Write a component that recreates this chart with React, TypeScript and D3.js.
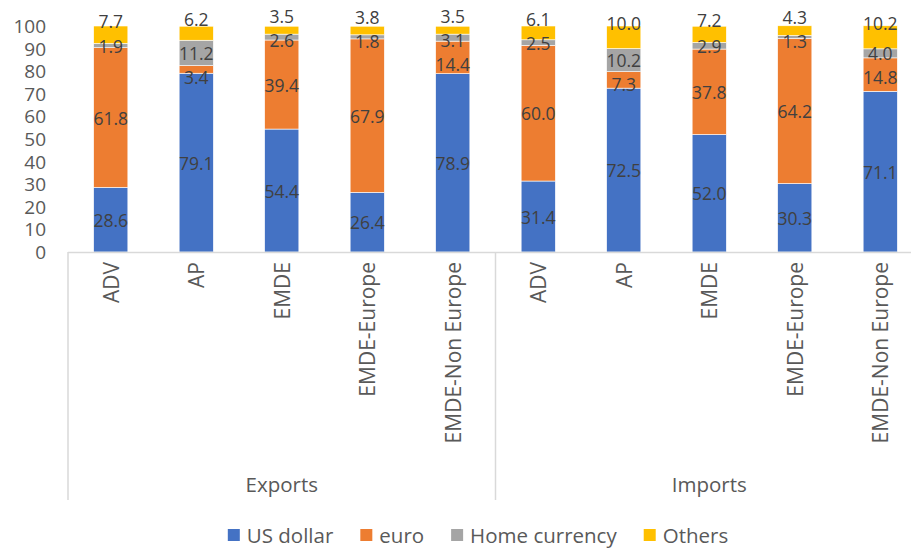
import React, { useEffect, useRef } from "react";
import * as d3 from "d3";

const categories = ["ADV", "AP", "EMDE", "EMDE-Europe", "EMDE-Non Europe"];
const groups = ["Exports", "Imports"];
const seriesNames = ["US dollar", "euro", "Home currency", "Others"];
const usDollar = [28.6, 79.1, 54.4, 26.4, 78.9, 31.4, 72.5, 52.0, 30.3, 71.1];
const euro = [61.8, 3.4, 39.4, 67.9, 14.4, 60.0, 7.3, 37.8, 64.2, 14.8];
const homeCurrency = [1.9, 11.2, 2.6, 1.8, 3.1, 2.5, 10.2, 2.9, 1.3, 4.0];
const others = [7.7, 6.2, 3.5, 3.8, 3.5, 6.1, 10.0, 7.2, 4.3, 10.2];
const yTicks = [0, 10, 20, 30, 40, 50, 60, 70, 80, 90, 100];
const colors = ["#4472C4", "#ED7D31", "#A5A5A5", "#FFC000"];

const FONT = "'Open Sans', 'Noto Sans', sans-serif";

export default function App() {
  const ref = useRef<SVGSVGElement>(null);

  useEffect(() => {
    const svg = d3.select(ref.current);
    svg.selectAll("*").remove();

    const left = 68;
    const step = 85.5;
    const right = left + step * 10;
    const axisY = 252;
    const keys = groups.flatMap((g) => categories.map((c) => g + "|" + c));
    const x = d3
      .scaleBand<string>()
      .domain(keys)
      .range([left, right])
      .paddingInner(0.6)
      .paddingOuter(0.3);
    const y = d3.scaleLinear().domain([0, 100]).range([axisY, 26]);

    const seriesVals = [usDollar, euro, homeCurrency, others];
    const rows = keys.map((k, i) => {
      const r: any = { key: k };
      seriesNames.forEach((s, j) => (r[s] = seriesVals[j][i]));
      return r;
    });
    const stacked = d3.stack<any>().keys(seriesNames)(rows);

    // bars
    const g = svg.append("g");
    stacked.forEach((layer, si) => {
      g.selectAll(null)
        .data(layer)
        .enter()
        .append("rect")
        .attr("x", (d: any) => x(d.data.key)!)
        .attr("width", x.bandwidth())
        .attr("y", (d: any) => y(d[1]))
        .attr("height", (d: any) => y(d[0]) - y(d[1]))
        .attr("fill", colors[si])
        .attr("stroke", "#ffffff")
        .attr("stroke-width", 0.6);
    });

    // y tick labels
    svg
      .append("g")
      .selectAll("text")
      .data(yTicks)
      .enter()
      .append("text")
      .attr("x", 46)
      .attr("y", (d) => y(d))
      .attr("text-anchor", "end")
      .attr("dominant-baseline", "central")
      .attr("font-family", FONT)
      .attr("font-size", 19)
      .attr("fill", "#595959")
      .text((d) => String(d));

    // data labels with simple overlap resolution
    const gap = 24;
    const lg = svg.append("g");
    keys.forEach((k, i) => {
      const centers = stacked.map((layer) => y((layer[i][0] + layer[i][1]) / 2));
      const pos = centers.slice();
      pos[3] = centers[3] - 14;
      for (let s = 2; s >= 0; s--) pos[s] = Math.max(centers[s], pos[s + 1] + gap);
      stacked.forEach((layer, si) => {
        lg.append("text")
          .attr("x", x(k)! + x.bandwidth() / 2)
          .attr("y", pos[si])
          .attr("text-anchor", "middle")
          .attr("dominant-baseline", "central")
          .attr("font-family", FONT)
          .attr("font-size", 17.5)
          .attr("fill", "#404040")
          .text(seriesVals[si][i].toFixed(1));
      });
    });

    // axis lines
    const axisColor = "#D9D9D9";
    svg
      .append("line")
      .attr("x1", left)
      .attr("x2", right)
      .attr("y1", axisY + 0.5)
      .attr("y2", axisY + 0.5)
      .attr("stroke", axisColor)
      .attr("stroke-width", 1.5);
    [0, 5, 10].forEach((b) => {
      const xx = left + step * b;
      svg
        .append("line")
        .attr("x1", xx)
        .attr("x2", xx)
        .attr("y1", axisY)
        .attr("y2", 500)
        .attr("stroke", axisColor)
        .attr("stroke-width", 1.5);
    });

    // category labels
    keys.forEach((k, i) => {
      const cx = x(k)! + x.bandwidth() / 2;
      svg
        .append("text")
        .attr("transform", `translate(${cx},262) rotate(-90)`)
        .attr("text-anchor", "end")
        .attr("dominant-baseline", "central")
        .attr("font-family", FONT)
        .attr("font-size", 21)
        .attr("fill", "#595959")
        .text(categories[i % categories.length]);
    });

    // group labels
    groups.forEach((gname, gi) => {
      const x0 = left + step * 5 * gi;
      const x1 = x0 + step * 5;
      svg
        .append("text")
        .attr("x", (x0 + x1) / 2)
        .attr("y", 484)
        .attr("text-anchor", "middle")
        .attr("dominant-baseline", "central")
        .attr("font-family", FONT)
        .attr("font-size", 20.5)
        .attr("fill", "#595959")
        .text(gname);
    });

    // legend
    const leg = svg.append("g");
    const sq = 12;
    const textGap = 7;
    const itemGap = 27;
    const items = seriesNames.map((name, i) => {
      const gi = leg.append("g");
      gi.append("rect").attr("width", sq).attr("height", sq).attr("y", -sq / 2).attr("fill", colors[i]);
      const t = gi
        .append("text")
        .attr("x", sq + textGap)
        .attr("y", 0)
        .attr("dominant-baseline", "central")
        .attr("font-family", FONT)
        .attr("font-size", 20.5)
        .attr("fill", "#595959")
        .text(name);
      const w = (t.node() as SVGTextElement).getComputedTextLength();
      return { gi, w: sq + textGap + w };
    });
    const total = d3.sum(items, (d) => d.w) + itemGap * (items.length - 1);
    let cur = 478 - total / 2;
    items.forEach((it) => {
      it.gi.attr("transform", `translate(${cur},535)`);
      cur += it.w + itemGap;
    });
  }, []);

  return (
    <svg
      ref={ref}
      width={911}
      height={549}
      style={{ position: "absolute", left: 0, top: 0, background: "#fff" }}
    />
  );
}
